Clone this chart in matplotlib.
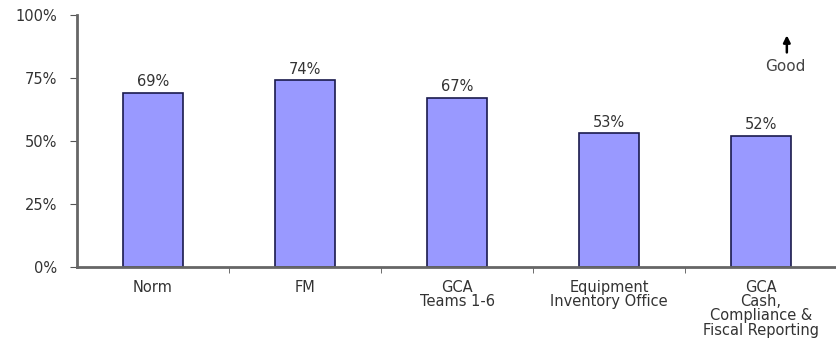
import numpy as np
import matplotlib.pyplot as plt

plt.rcParams['font.family'] = ['DejaVu Sans']

# Gögn
categories = ["Norm", "FM", "GCA\nTeams 1-6", "Equipment\nInventory Office",
              "GCA\nCash,\nCompliance &\nFiscal Reporting"]
values = [69, 74, 67, 53, 52]
yticks = [0, 25, 50, 75, 100]

fig = plt.figure(figsize=(8.37, 3.38), dpi=100)
ax = fig.add_axes([0.092, 0.21, 0.908, 0.746])

x = np.arange(len(categories))
ax.bar(x, values, width=0.4, color="#9999ff", edgecolor="#1a1a4d", linewidth=1.2, zorder=2)

for xi, v in zip(x, values):
    ax.text(xi, v + 1.5, f"{v}%", ha="center", va="bottom", fontsize=10.5, color="#333333")

ax.set_xlim(-0.5, len(categories) - 0.5)
ax.set_ylim(0, 100)
ax.set_yticks(yticks)
ax.set_yticklabels([f"{t}%" for t in yticks], fontsize=10.5, color="#333333")
ax.set_xticks(x)
ax.set_xticklabels(categories, fontsize=10.5, color="#333333", linespacing=0.95)
ax.tick_params(axis="x", length=0, pad=9)
ax.set_xticks(np.arange(0.5, len(categories) - 0.5, 1), minor=True)
ax.tick_params(axis="x", which="minor", length=4, color="#555555")
ax.tick_params(axis="y", length=5, color="#555555", pad=9)

for s in ["top", "right"]:
    ax.spines[s].set_visible(False)
ax.spines["left"].set_color("#666666")
ax.spines["left"].set_linewidth(2)
ax.spines["bottom"].set_color("#666666")
ax.spines["bottom"].set_linewidth(2)

# Good ör
ax.annotate("", xy=(4.17, 93), xytext=(4.17, 84),
            arrowprops=dict(arrowstyle="-|>", color="black", lw=1.8, mutation_scale=10))
ax.text(4.16, 79.5, "Good", ha="center", va="center", fontsize=11, color="#444444")

fig.savefig("out.png", dpi=100)
